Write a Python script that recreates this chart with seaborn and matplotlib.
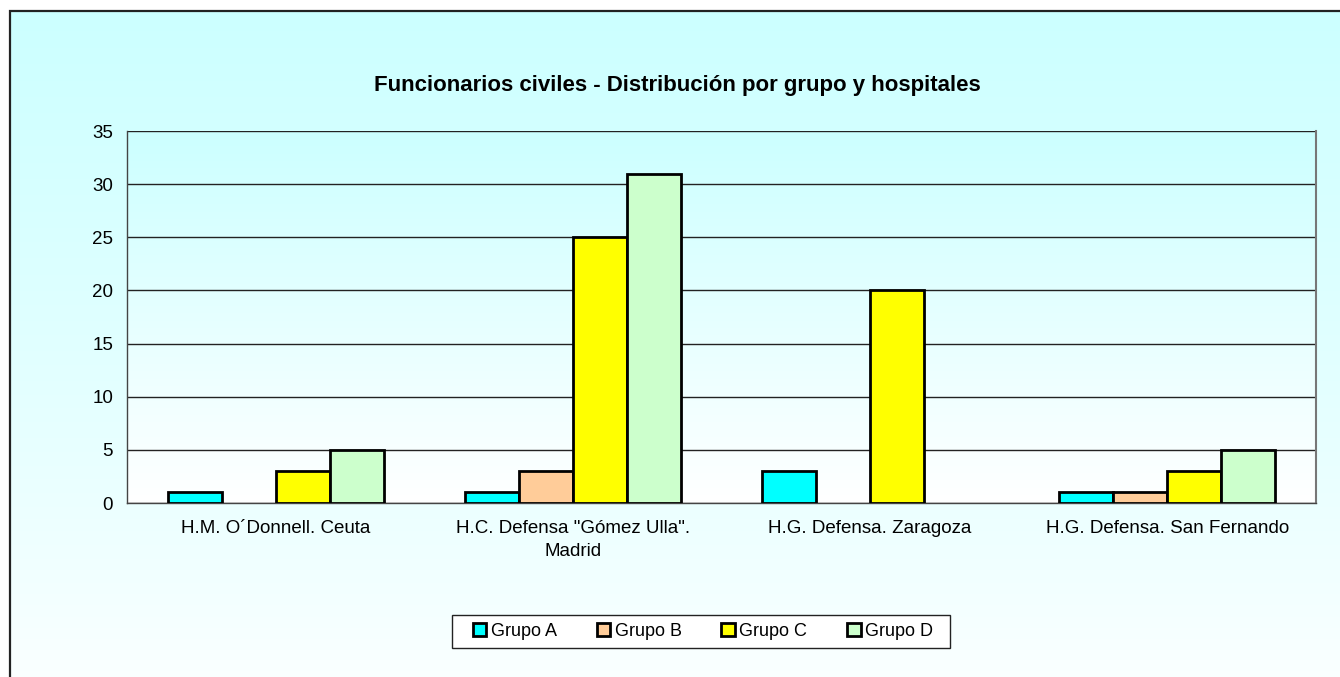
import numpy as np
import pandas as pd
import matplotlib
matplotlib.use('Agg')
import matplotlib.pyplot as plt
from matplotlib.patches import Rectangle, Patch
from matplotlib.colors import LinearSegmentedColormap
import seaborn as sns

sns.set_style('white')
plt.rcParams['font.family'] = ['Liberation Sans', 'DejaVu Sans']
plt.rcParams['text.color'] = 'black'
plt.rcParams['xtick.labelcolor'] = 'black'
plt.rcParams['ytick.labelcolor'] = 'black'

# datos
hospitales = ['H.M. O´Donnell. Ceuta',
              'H.C. Defensa "Gómez Ulla".\nMadrid',
              'H.G. Defensa. Zaragoza',
              'H.G. Defensa. San Fernando']
grupos = ['Grupo A', 'Grupo B', 'Grupo C', 'Grupo D']
grupo_a = [1, 1, 3, 1]
grupo_b = [0, 3, 0, 1]
grupo_c = [3, 25, 20, 3]
grupo_d = [5, 31, 0, 5]
colores = ['#00FFFF', '#FFCC99', '#FFFF00', '#CCFFCC']

df = pd.DataFrame({
    'Hospital': hospitales * 4,
    'Grupo': np.repeat(grupos, len(hospitales)),
    'Valor': grupo_a + grupo_b + grupo_c + grupo_d,
})

W, H = 1340, 677
fig = plt.figure(figsize=(W / 100, H / 100), dpi=100)
fig.patch.set_facecolor('white')

grad_cmap = LinearSegmentedColormap.from_list('fondo', ['#FFFFFF', '#CCFFFF'])
grad = np.linspace(1, 0, 256).reshape(-1, 1)

# fondo del grafico (degradado)
bg = fig.add_axes([10 / W, 0, 1 - 10 / W, (H - 11) / H])
bg.imshow(grad ** 0.8, aspect='auto', cmap=grad_cmap, vmin=0, vmax=1,
          extent=[0, 1, -0.05, 1])
bg.set_xlim(0, 1)
bg.set_ylim(0, 1)
bg.axis('off')
bg.add_patch(Rectangle((0, -0.1), 1.2, 1.1, fill=False, edgecolor='#222222',
                       linewidth=1.6, transform=bg.transAxes, clip_on=False))

# area de trazado
left, right, top, bottom = 127, 1316, 131, 503
ax = fig.add_axes([left / W, (H - bottom) / H, (right - left) / W, (bottom - top) / H])
ax.imshow(grad, aspect='auto', cmap=grad_cmap, vmin=0, vmax=1,
          extent=[0, 1, 0, 1], transform=ax.transAxes, zorder=-10)

sns.barplot(data=df, x='Hospital', y='Valor', hue='Grupo', order=hospitales,
            hue_order=grupos, palette=colores, width=0.727, saturation=1,
            edgecolor='black', linewidth=2, errorbar=None, ax=ax, zorder=3)

# barras con valor 0 no se dibujan
for p in ax.patches:
    if p.get_height() == 0:
        p.set_visible(False)

ax.set_xlim(-0.5, 3.5)
ax.set_ylim(0, 35)
ax.set_yticks(range(0, 36, 5))
ax.yaxis.grid(True, color='#222222', linewidth=1)
ax.set_axisbelow(True)
ax.set_xlabel('')
ax.set_ylabel('')

ax.tick_params(axis='y', length=0, pad=10, labelsize=13.5)
ax.tick_params(axis='x', which='major', length=0, pad=12, labelsize=13.5)
for t in ax.get_xticklabels():
    t.set_linespacing(1.5)
ax.set_xticks(np.arange(-0.5, 4.0, 1.0), minor=True)
ax.tick_params(axis='x', which='minor', length=5, width=1, color='#444444', direction='out')

for s in ['left', 'bottom']:
    ax.spines[s].set_color('#444444')
    ax.spines[s].set_linewidth(1)
ax.spines['right'].set_color('#777777')
ax.spines['right'].set_linewidth(1.5)
ax.spines['top'].set_visible(False)

ax.get_legend().remove()

fig.text(677 / W, (H - 85) / H,
         'Funcionarios civiles - Distribución por grupo y hospitales',
         ha='center', va='center', fontsize=16, fontweight='bold')

# leyenda con marco propio
fig.patches.append(Rectangle((452 / W, (H - 648) / H), 498 / W, 33 / H,
                             facecolor='white', edgecolor='#222222', linewidth=1,
                             transform=fig.transFigure, zorder=1))
handles = [Patch(facecolor=c, edgecolor='black', linewidth=2) for c in colores]
leg = fig.legend(handles, grupos, loc='center', bbox_to_anchor=(703 / W, (H - 631) / H),
                 ncol=4, fontsize=13, frameon=False,
                 handlelength=0.75, handleheight=0.75, handletextpad=0.25,
                 columnspacing=2.2)
leg.set_zorder(2)

fig.savefig('out.png', dpi=100)
